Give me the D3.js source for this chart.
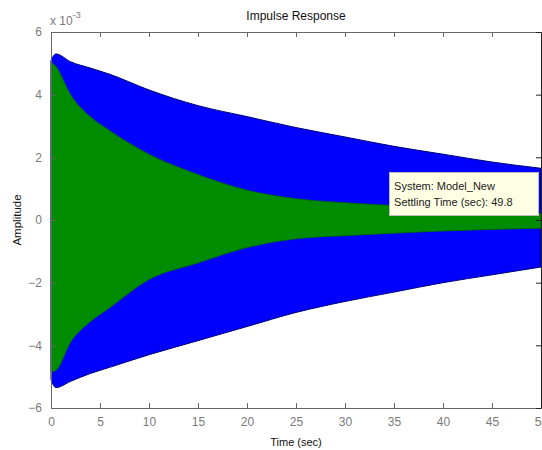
<!DOCTYPE html>
<html>
<head>
<meta charset="utf-8">
<script src="https://cdn.jsdelivr.net/npm/d3@7"></script>
<style>
  body { margin: 0; background: #fff; }
  svg { display: block; font-family: "Liberation Sans", Arial, sans-serif; }
</style>
</head>
<body>
<div id="chart"></div>
<script>
// envelope of the impulse response (units of 1e-3)
const time = [0, 0.5, 2, 4, 6, 10, 15, 20, 25, 30, 35, 40, 45, 50];
const blueUpper = [5.1, 5.3, 5.05, 4.85, 4.65, 4.15, 3.65, 3.3, 2.95, 2.65, 2.35, 2.1, 1.85, 1.65];
const blueLower = [-5.1, -5.35, -5.15, -4.9, -4.7, -4.3, -3.85, -3.4, -2.95, -2.6, -2.3, -2.0, -1.75, -1.5];
const greenUpper = [5.05, 4.9, 4.0, 3.3, 2.85, 2.1, 1.45, 0.95, 0.68, 0.55, 0.46, 0.37, 0.28, 0.2];
const greenLower = [-4.85, -4.8, -3.9, -3.25, -2.8, -1.9, -1.37, -0.88, -0.6, -0.5, -0.42, -0.35, -0.3, -0.26];

const xTicks = [0, 5, 10, 15, 20, 25, 30, 35, 40, 45, 50];
const yTicks = [-6, -4, -2, 0, 2, 4, 6];
const tipLines = ['System: Model_New', 'Settling Time (sec): 49.8'];
const tipTime = 49.8;

const w = 542;
const h = 450;
const margin = {left: 51, right: 1, top: 32, bottom: 42};

const xScale = d3.scaleLinear([0, 50], [margin.left, w - margin.right]);
const yScale = d3.scaleLinear([-6, 6], [h - margin.bottom, margin.top]);

const svg = d3.select('#chart')
    .append('svg')
    .attr('width', w)
    .attr('height', h);

svg.append('rect').attr('width', w).attr('height', h).attr('fill', '#fff');

const blue = time.map((t, i) => ({t: t, lo: blueLower[i], hi: blueUpper[i]}));
const green = time.map((t, i) => ({t: t, lo: greenLower[i], hi: greenUpper[i]}));

const area = d3.area()
    .curve(d3.curveMonotoneX)
    .x(d => xScale(d.t))
    .y0(d => yScale(d.lo))
    .y1(d => yScale(d.hi));

svg.append('path')
    .attr('d', area(blue))
    .attr('fill', '#0000ff')
    .attr('stroke', '#00007a')
    .attr('stroke-width', 1);

svg.append('path')
    .attr('d', area(green))
    .attr('fill', '#008c00')
    .attr('stroke', '#006a00')
    .attr('stroke-width', 0.8);

// axes, box style with inward ticks
const axisColor = '#666';
const tickLen = 5;

const xAxis = d3.axisBottom(xScale).tickValues(xTicks).tickSizeInner(-tickLen).tickSizeOuter(0).tickPadding(9);
const yAxis = d3.axisLeft(yScale).tickValues(yTicks).tickSizeInner(-tickLen).tickSizeOuter(0).tickPadding(9);

svg.append('g')
    .attr('transform', 'translate(0,' + (h - margin.bottom) + ')')
    .call(xAxis)
    .call(g => g.selectAll('text').attr('font-size', 12).attr('fill', '#7a7a7a'))
    .call(g => g.selectAll('line, path').attr('stroke', axisColor));

svg.append('g')
    .attr('transform', 'translate(' + margin.left + ',0)')
    .call(yAxis)
    .call(g => g.selectAll('text').attr('font-size', 12).attr('fill', '#7a7a7a'))
    .call(g => g.selectAll('line, path').attr('stroke', axisColor));

svg.append('g')
    .attr('transform', 'translate(0,' + margin.top + ')')
    .call(d3.axisTop(xScale).tickValues(xTicks).tickSizeInner(-tickLen).tickSizeOuter(0).tickFormat(''))
    .call(g => g.selectAll('line, path').attr('stroke', axisColor));

svg.append('g')
    .attr('transform', 'translate(' + (w - margin.right) + ',0)')
    .call(d3.axisRight(yScale).tickValues(yTicks).tickSizeInner(-tickLen).tickSizeOuter(0).tickFormat(''))
    .call(g => g.selectAll('line, path').attr('stroke', '#222'));

// exponent label
const expo = svg.append('text')
    .attr('x', margin.left - 1)
    .attr('y', 25)
    .attr('font-size', 12)
    .attr('fill', '#7a7a7a');
expo.append('tspan').text('x 10');
expo.append('tspan').attr('font-size', 9).attr('dy', -7).text('-3');

svg.append('text')
    .text('Impulse Response')
    .attr('text-anchor', 'middle')
    .attr('x', (margin.left + w - margin.right) / 2)
    .attr('y', 20)
    .attr('font-size', 12)
    .attr('fill', '#111');

svg.append('text')
    .text('Time (sec)')
    .attr('text-anchor', 'middle')
    .attr('x', (margin.left + w - margin.right) / 2)
    .attr('y', 446)
    .attr('font-size', 11)
    .attr('fill', '#111');

svg.append('text')
    .text('Amplitude')
    .attr('text-anchor', 'middle')
    .attr('transform', 'translate(21,' + yScale(0) + ') rotate(-90)')
    .attr('font-size', 11.5)
    .attr('fill', '#111');

// data tip for the settling time
const tip = svg.append('g')
    .attr('transform', 'translate(' + (xScale(tipTime) - 150) + ',' + (yScale(1.5) - 0.5) + ')');

tip.append('rect')
    .attr('x', 0.5)
    .attr('y', 0)
    .attr('width', 149)
    .attr('height', 43)
    .attr('fill', '#ffffe4')
    .attr('stroke', '#bbb')
    .attr('stroke-width', 1);

tip.selectAll('text.tip')
    .data(tipLines)
    .enter()
    .append('text')
    .attr('class', 'tip')
    .attr('x', 5)
    .attr('y', (d, i) => 17 + i * 16)
    .attr('font-size', 11)
    .attr('fill', '#222')
    .text(d => d);
</script>
</body>
</html>
